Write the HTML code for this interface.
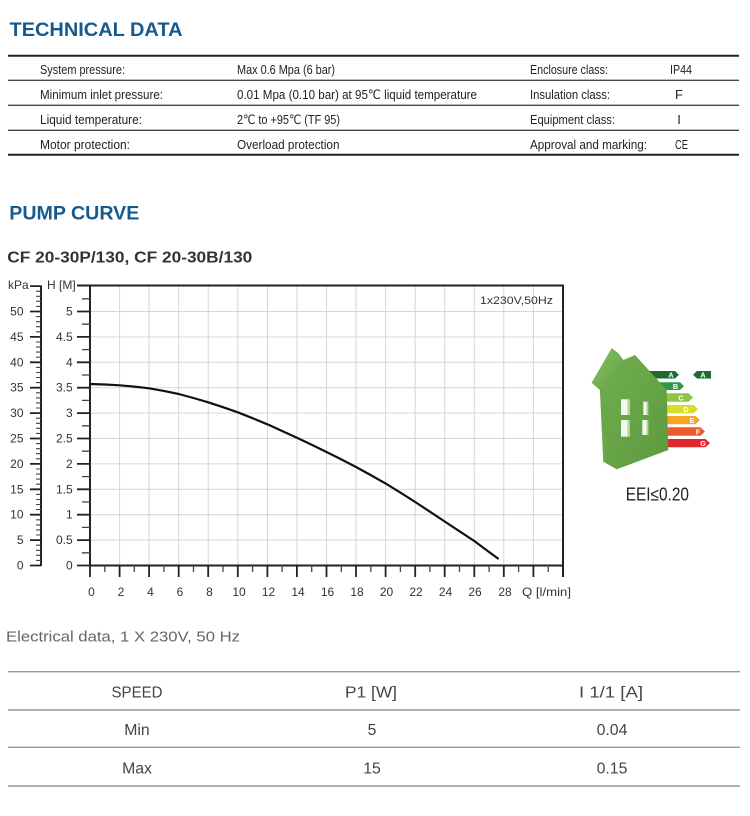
<!DOCTYPE html>
<html><head><meta charset="utf-8"><style>
html,body{margin:0;padding:0;background:#fff;}
svg{display:block;}
text{font-family:"Liberation Sans","DejaVu Sans",sans-serif;}
</style></head><body>
<svg width="750" height="816" viewBox="0 0 750 816" xmlns="http://www.w3.org/2000/svg">
<rect width="750" height="816" fill="#fff"/>

<!-- TECHNICAL DATA -->
<text x="9.5" y="36" font-size="19" font-weight="bold" fill="#18598b" textLength="173" lengthAdjust="spacingAndGlyphs">TECHNICAL DATA</text>
<line x1="8" y1="55.7" x2="739" y2="55.7" stroke="#222" stroke-width="2"/>
<line x1="8" y1="80.3" x2="739" y2="80.3" stroke="#444" stroke-width="1.4"/>
<line x1="8" y1="105.3" x2="739" y2="105.3" stroke="#444" stroke-width="1.4"/>
<line x1="8" y1="130.3" x2="739" y2="130.3" stroke="#444" stroke-width="1.4"/>
<line x1="8" y1="154.8" x2="739" y2="154.8" stroke="#222" stroke-width="2"/>
<g font-size="13" fill="#222">
<text x="40" y="74" textLength="85" lengthAdjust="spacingAndGlyphs">System pressure:</text>
<text x="237" y="74" textLength="98" lengthAdjust="spacingAndGlyphs">Max 0.6 Mpa (6 bar)</text>
<text x="530" y="74" textLength="78" lengthAdjust="spacingAndGlyphs">Enclosure class:</text>
<text x="670" y="74" textLength="22" lengthAdjust="spacingAndGlyphs">IP44</text>
<text x="40" y="99" textLength="123" lengthAdjust="spacingAndGlyphs">Minimum inlet pressure:</text>
<text x="237" y="99" textLength="240" lengthAdjust="spacingAndGlyphs">0.01 Mpa (0.10 bar) at 95℃ liquid temperature</text>
<text x="530" y="99" textLength="80" lengthAdjust="spacingAndGlyphs">Insulation class:</text>
<text x="679" y="99" text-anchor="middle">F</text>
<text x="40" y="124" textLength="102" lengthAdjust="spacingAndGlyphs">Liquid temperature:</text>
<text x="237" y="124" textLength="103" lengthAdjust="spacingAndGlyphs">2℃ to +95℃ (TF 95)</text>
<text x="530" y="124" textLength="85" lengthAdjust="spacingAndGlyphs">Equipment class:</text>
<text x="679" y="124" text-anchor="middle">I</text>
<text x="40" y="149" textLength="90" lengthAdjust="spacingAndGlyphs">Motor protection:</text>
<text x="237" y="149" textLength="102.5" lengthAdjust="spacingAndGlyphs">Overload protection</text>
<text x="530" y="149" textLength="117" lengthAdjust="spacingAndGlyphs">Approval and marking:</text>
<text x="675" y="149" textLength="13" lengthAdjust="spacingAndGlyphs">CE</text>
</g>

<!-- PUMP CURVE -->
<text x="9.3" y="219.3" font-size="19" font-weight="bold" fill="#18598b" textLength="130" lengthAdjust="spacingAndGlyphs">PUMP CURVE</text>
<text x="7.3" y="262.3" font-size="15.5" font-weight="bold" fill="#333" textLength="245" lengthAdjust="spacingAndGlyphs">CF 20-30P/130, CF 20-30B/130</text>

<!-- grid -->
<g stroke="#d6d6d6" stroke-width="1">
<path d="M119.6 285.5V565.5M149.1 285.5V565.5M178.7 285.5V565.5M208.2 285.5V565.5M237.8 285.5V565.5M267.4 285.5V565.5M296.9 285.5V565.5M326.5 285.5V565.5M356 285.5V565.5M385.6 285.5V565.5M415.2 285.5V565.5M444.7 285.5V565.5M474.3 285.5V565.5M503.8 285.5V565.5M533.4 285.5V565.5"/>
<path d="M90 540.1H563M90 514.7H563M90 489.3H563M90 463.9H563M90 438.5H563M90 413.1H563M90 387.7H563M90 362.3H563M90 336.9H563M90 311.5H563"/>
</g>

<!-- plot frame -->
<path d="M77 285.5H563V577M90 285.5V565.5H563" fill="none" stroke="#222" stroke-width="2"/>

<!-- H axis ticks -->
<path stroke="#222" stroke-width="1.8" d="M77 565.5H90M77 540.1H90M77 514.7H90M77 489.3H90M77 463.9H90M77 438.5H90M77 413.1H90M77 387.7H90M77 362.3H90M77 336.9H90M77 311.5H90"/>
<path stroke="#444" stroke-width="1.3" d="M82 552.8H90M82 527.4H90M82 502H90M82 476.6H90M82 451.2H90M82 425.8H90M82 400.4H90M82 375H90M82 349.6H90M82 324.2H90M82 298.8H90"/>

<!-- kPa axis -->
<path d="M41 285.5V566" stroke="#222" stroke-width="2"/>
<path stroke="#222" stroke-width="1.8" d="M30 565.5H41M30 540.1H41M30 514.7H41M30 489.3H41M30 463.9H41M30 438.5H41M30 413.1H41M30 387.7H41M30 362.3H41M30 336.9H41M30 311.5H41M30 286.1H41"/>
<path stroke="#444" stroke-width="1.1" d="M36 560.4H41M36 555.3H41M36 550.3H41M36 545.2H41M36 535H41M36 529.9H41M36 524.9H41M36 519.8H41M36 509.6H41M36 504.5H41M36 499.5H41M36 494.4H41M36 484.2H41M36 479.1H41M36 474.1H41M36 469H41M36 458.8H41M36 453.7H41M36 448.7H41M36 443.6H41M36 433.4H41M36 428.3H41M36 423.3H41M36 418.2H41M36 408H41M36 402.9H41M36 397.9H41M36 392.8H41M36 382.6H41M36 377.5H41M36 372.5H41M36 367.4H41M36 357.2H41M36 352.1H41M36 347.1H41M36 342H41M36 331.8H41M36 326.7H41M36 321.7H41M36 316.6H41M36 306.4H41M36 301.3H41M36 296.3H41M36 291.2H41"/>

<!-- x ticks -->
<path stroke="#222" stroke-width="1.8" d="M90 565.5V577M119.6 565.5V577M149.1 565.5V577M178.7 565.5V577M208.2 565.5V577M237.8 565.5V577M267.4 565.5V577M296.9 565.5V577M326.5 565.5V577M356 565.5V577M385.6 565.5V577M415.2 565.5V577M444.7 565.5V577M474.3 565.5V577M503.8 565.5V577M533.4 565.5V577"/>
<path stroke="#444" stroke-width="1.3" d="M104.8 565.5V572M134.3 565.5V572M163.9 565.5V572M193.5 565.5V572M223 565.5V572M252.6 565.5V572M282.1 565.5V572M311.7 565.5V572M341.3 565.5V572M370.8 565.5V572M400.4 565.5V572M429.9 565.5V572M459.5 565.5V572M489.1 565.5V572M518.6 565.5V572M548.2 565.5V572"/>

<!-- axis labels -->
<g font-size="12" fill="#333">
<text x="8" y="289">kPa</text>
<text x="47" y="289">H [M]</text>
<g text-anchor="end">
<text x="23.5" y="569.5">0</text>
<text x="23.5" y="544.1">5</text>
<text x="23.5" y="518.7">10</text>
<text x="23.5" y="493.3">15</text>
<text x="23.5" y="467.9">20</text>
<text x="23.5" y="442.5">25</text>
<text x="23.5" y="417.1">30</text>
<text x="23.5" y="391.7">35</text>
<text x="23.5" y="366.3">40</text>
<text x="23.5" y="340.9">45</text>
<text x="23.5" y="315.5">50</text>
<text x="72.7" y="569.5">0</text>
<text x="72.7" y="544.1">0.5</text>
<text x="72.7" y="518.7">1</text>
<text x="72.7" y="493.3">1.5</text>
<text x="72.7" y="467.9">2</text>
<text x="72.7" y="442.5">2.5</text>
<text x="72.7" y="417.1">3</text>
<text x="72.7" y="391.7">3.5</text>
<text x="72.7" y="366.3">4</text>
<text x="72.7" y="340.9">4.5</text>
<text x="72.7" y="315.5">5</text>
</g>
<g text-anchor="middle">
<text x="91.5" y="596">0</text>
<text x="121" y="596">2</text>
<text x="150.5" y="596">4</text>
<text x="180" y="596">6</text>
<text x="209.5" y="596">8</text>
<text x="239" y="596">10</text>
<text x="268.5" y="596">12</text>
<text x="298" y="596">14</text>
<text x="327.5" y="596">16</text>
<text x="357" y="596">18</text>
<text x="386.5" y="596">20</text>
<text x="416" y="596">22</text>
<text x="445.5" y="596">24</text>
<text x="475" y="596">26</text>
<text x="505" y="596">28</text>
</g>
<text x="522" y="596" textLength="49" lengthAdjust="spacingAndGlyphs">Q [l/min]</text>
<text x="480" y="304" font-size="11" textLength="73" lengthAdjust="spacingAndGlyphs">1x230V,50Hz</text>
</g>

<!-- curve -->
<polyline fill="none" stroke="#111" stroke-width="2.2" stroke-linejoin="round" stroke-linecap="round"
points="90,384 104.8,384.5 119.6,385.3 134.3,386.6 149.1,388.3 163.9,390.9 178.7,394 193.5,398 208.2,402.3 223,407.2 237.8,412.3 252.6,418.2 267.4,424.3 282.1,431 296.9,437.8 311.7,444.8 326.5,452 341.3,459.4 356,467 370.8,475.1 385.6,483.5 400.4,492.6 415.2,502 429.9,511.7 444.7,521.5 459.5,531.3 474.3,541 486,549.7 497.9,558.5"/>

<!-- energy label bars -->
<g>
<polygon points="648,371 675,371 679,374.75 675,378.5 648,378.5" fill="#1d6a32"/>
<polygon points="655,382.3 680,382.3 684,386.15 680,390 655,390" fill="#2f9a46"/>
<polygon points="658,393.3 688.5,393.3 693,397.5 688.5,401.7 658,401.7" fill="#8dc63f"/>
<polygon points="660,405 693.5,405 698,409.15 693.5,413.3 660,413.3" fill="#d5df26"/>
<polygon points="660,416 695.5,416 700,420.15 695.5,424.3 660,424.3" fill="#f5a623"/>
<polygon points="660,427.3 700.5,427.3 705,431.5 700.5,435.7 660,435.7" fill="#ef5a2a"/>
<polygon points="660,439 705.5,439 710,443.15 705.5,447.3 660,447.3" fill="#e3262b"/>
<polygon points="693,374.75 697,371 711,371 711,378.5 697,378.5" fill="#1d6a32"/>
<g font-size="7.5" font-weight="bold" fill="#fff" text-anchor="middle">
<text x="671" y="377.5">A</text>
<text x="675.5" y="388.8">B</text>
<text x="681" y="400.4">C</text>
<text x="686" y="412">D</text>
<text x="692" y="423">E</text>
<text x="698" y="434.4">F</text>
<text x="703" y="446">G</text>
<text x="703" y="377.5">A</text>
</g>
</g>

<!-- house -->
<defs>
<linearGradient id="hf" x1="0" y1="0" x2="1" y2="1">
<stop offset="0" stop-color="#74b052"/>
<stop offset="1" stop-color="#5c9a3e"/>
</linearGradient>
<linearGradient id="hs" x1="0" y1="0" x2="1" y2="1">
<stop offset="0" stop-color="#86c062"/>
<stop offset="1" stop-color="#62a243"/>
</linearGradient>
</defs>
<!-- full silhouette -->
<polygon points="611.7,348.3 618.3,353.3 623.3,360 635,355 666.7,390 668.3,450 616.7,469.3 603.3,461.7 600,390 591.7,382.7" fill="url(#hf)"/>
<!-- left roof / side band -->
<polygon points="611.7,348.3 618.3,353.3 623.3,360 600,390 591.7,382.7" fill="url(#hs)"/>
<!-- front wall lighter left edge -->
<polygon points="600,390 604,386 606,460 603.3,461.7" fill="#6aa94a"/>
<!-- windows -->
<g fill="#f3f8f0">
<rect x="621" y="399.3" width="9" height="15.7"/>
<rect x="643.3" y="401.7" width="5" height="13.3"/>
<rect x="621" y="420" width="9" height="16.7"/>
<rect x="642.3" y="420" width="6" height="15"/>
</g>
<g fill="#7db85a" opacity="0.55">
<rect x="627.5" y="399.3" width="2.5" height="15.7"/>
<rect x="627.5" y="420" width="2.5" height="16.7"/>
<rect x="646.5" y="401.7" width="1.8" height="13.3"/>
<rect x="646.5" y="420" width="1.8" height="15"/>
</g>
<text x="625.7" y="500.7" font-size="18" fill="#222" textLength="63.3" lengthAdjust="spacingAndGlyphs">EEI≤0.20</text>

<!-- Electrical data -->
<text x="6" y="641.7" font-size="15" fill="#666" textLength="234" lengthAdjust="spacingAndGlyphs">Electrical data, 1 X 230V, 50 Hz</text>
<g stroke="#999" stroke-width="1.4">
<line x1="8" y1="671.7" x2="740" y2="671.7"/>
<line x1="8" y1="710" x2="740" y2="710"/>
<line x1="8" y1="747.3" x2="740" y2="747.3"/>
<line x1="8" y1="786" x2="740" y2="786"/>
</g>
<g font-size="15.8" fill="#444" text-anchor="middle">
<text x="137" y="697.3" textLength="51" lengthAdjust="spacingAndGlyphs">SPEED</text>
<text x="371" y="697.3" textLength="52" lengthAdjust="spacingAndGlyphs">P1 [W]</text>
<text x="611" y="697.3" textLength="64" lengthAdjust="spacingAndGlyphs">I 1/1 [A]</text>
<text x="137" y="735">Min</text>
<text x="372" y="735">5</text>
<text x="612" y="735">0.04</text>
<text x="137" y="773.5">Max</text>
<text x="372" y="773.5">15</text>
<text x="612" y="773.5">0.15</text>
</g>
</svg>
</body></html>
